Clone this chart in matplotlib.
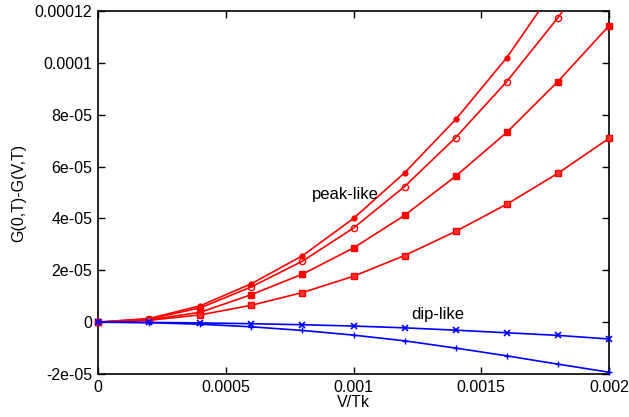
import matplotlib
matplotlib.use("Agg")
import matplotlib.pyplot as plt

plt.rcParams['font.family'] = ['Liberation Sans', 'DejaVu Sans']

x = [0, 0.0002, 0.0004, 0.0006, 0.0008, 0.001, 0.0012, 0.0014, 0.0016, 0.0018, 0.002]

peak_a = [0, 1.4e-6, 6.3e-6, 1.48e-5, 2.56e-5, 4.0e-5, 5.76e-5, 7.82e-5, 1.02e-4, 1.306e-4, 1.6e-4]
peak_b = [0, 1.2e-6, 5.5e-6, 1.36e-5, 2.35e-5, 3.63e-5, 5.23e-5, 7.12e-5, 9.28e-5, 1.174e-4, 1.45e-4]
peak_c = [0, 0.9e-6, 3.8e-6, 1.06e-5, 1.85e-5, 2.86e-5, 4.12e-5, 5.63e-5, 7.32e-5, 9.28e-5, 1.143e-4]
peak_d = [0, 0.7e-6, 2.8e-6, 6.5e-6, 1.14e-5, 1.77e-5, 2.57e-5, 3.5e-5, 4.55e-5, 5.74e-5, 7.09e-5]
dip_e = [0, -1e-7, -3e-7, -6e-7, -1.0e-6, -1.5e-6, -2.2e-6, -3.1e-6, -4.1e-6, -5.1e-6, -6.5e-6]
dip_f = [0, -2e-7, -8e-7, -1.8e-6, -3.2e-6, -5.0e-6, -7.2e-6, -1.0e-5, -1.3e-5, -1.62e-5, -1.93e-5]

xticks = [0, 0.0005, 0.001, 0.0015, 0.002]
xticklabels = ['0', '0.0005', '0.001', '0.0015', '0.002']
yticks = [-2e-5, 0, 2e-5, 4e-5, 6e-5, 8e-5, 1e-4, 1.2e-4]
yticklabels = ['-2e-05', '0', '2e-05', '4e-05', '6e-05', '8e-05', '0.0001', '0.00012']

fig = plt.figure(figsize=(6.29, 4.17), dpi=100)
ax = fig.add_axes([98/629, 1 - 374/417, (609 - 98)/629, (374 - 11)/417])

red = '#ff0000'
blue = '#0000ff'
lw = 1.2
ax.plot(x, peak_a, color=red, lw=lw, marker='o', ms=3.5, clip_on=True, zorder=3)
ax.plot(x, peak_b, color=red, lw=lw, marker='o', ms=4.5, mfc='none', mew=1.0, clip_on=True, zorder=3)
ax.plot(x, peak_c, color=red, lw=lw, marker='s', ms=4.2, clip_on=False, zorder=3)
ax.plot(x, peak_d, color=red, lw=lw, marker='s', ms=4.2, mfc='#ff3030', clip_on=False, zorder=3)
ax.plot(x, dip_e, color=blue, lw=lw, marker='x', ms=4.5, mew=1.2, clip_on=False, zorder=3)
ax.plot(x, dip_f, color=blue, lw=lw, marker='+', ms=5, mew=1.0, clip_on=False, zorder=3)

ax.set_xlim(0, 0.002)
ax.set_ylim(-2e-5, 1.2e-4)
ax.set_xticks(xticks)
ax.set_xticklabels(xticklabels)
ax.set_yticks(yticks)
ax.set_yticklabels(yticklabels)
ax.tick_params(direction='in', top=True, right=True, length=5, width=1, labelsize=11.5, pad=4)
for s in ax.spines.values():
    s.set_linewidth(1.2)

ax.set_xlabel('V/Tk', fontsize=11.5, labelpad=0)
ax.set_ylabel('G(0,T)-G(V,T)', fontsize=11.5, labelpad=6)

ax.text(0.000967, 4.93e-5, 'peak-like', fontsize=12, ha='center', va='center')
ax.text(0.00133, 3.1e-6, 'dip-like', fontsize=12, ha='center', va='center')

fig.savefig('out.png', dpi=100)
